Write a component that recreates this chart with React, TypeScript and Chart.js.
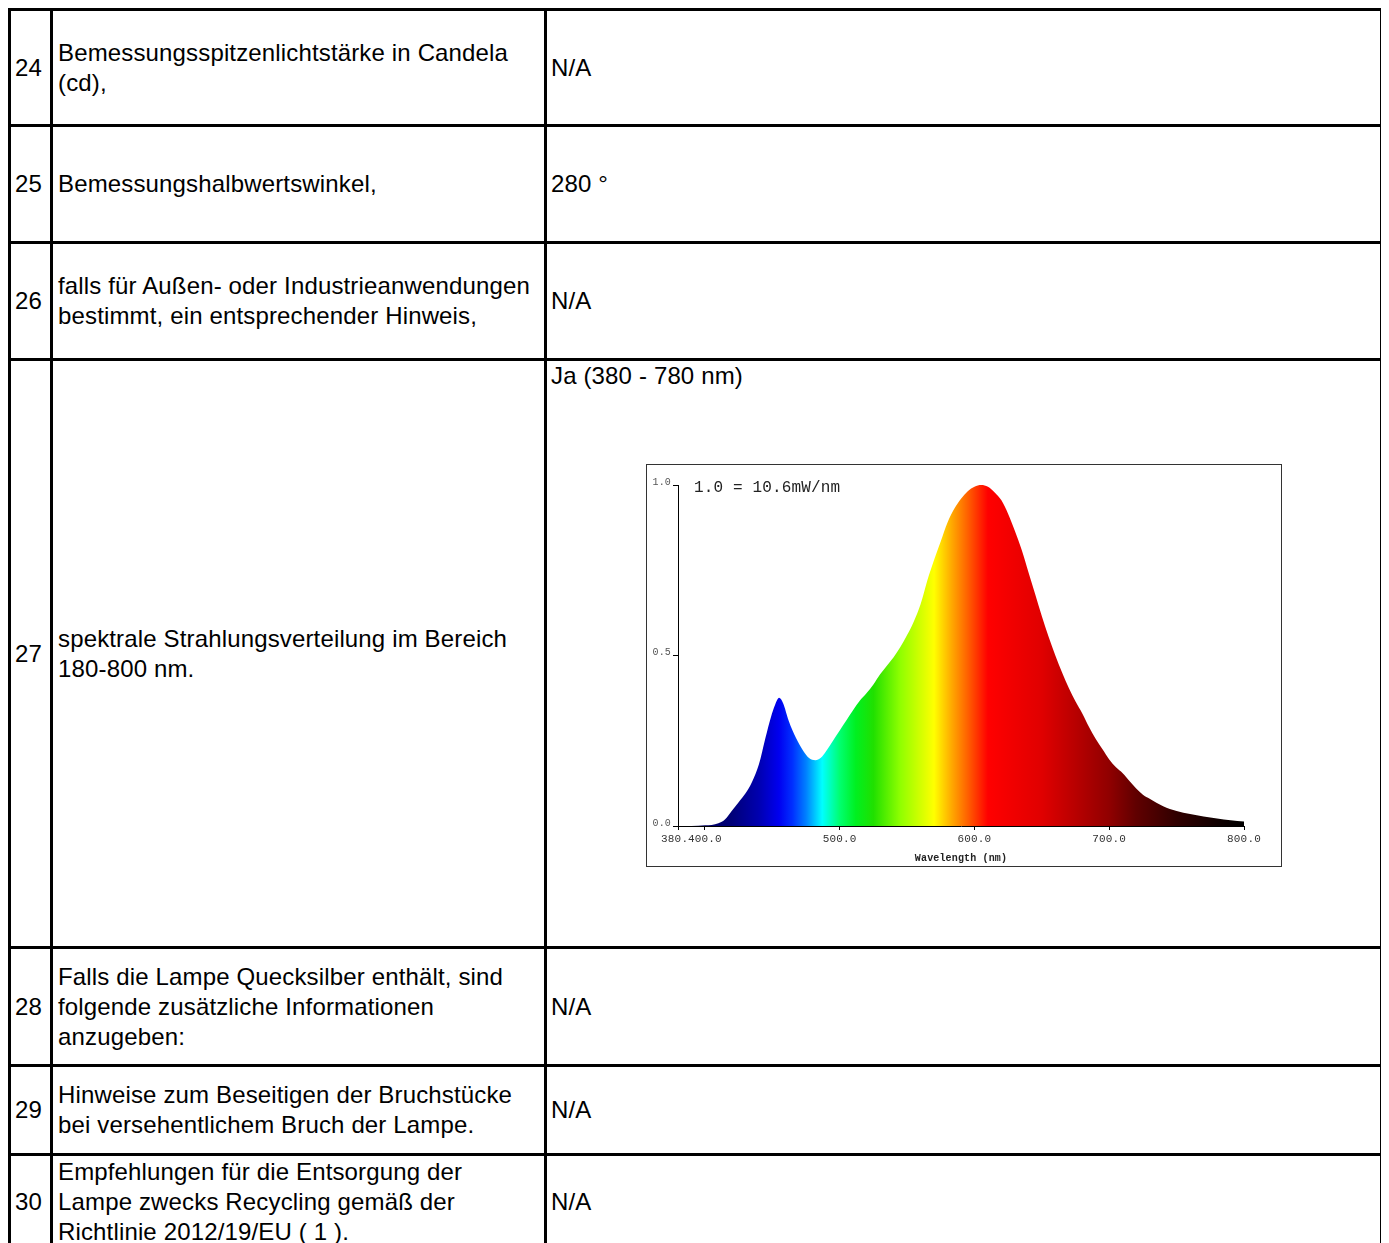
import React, { useEffect, useRef } from "react";
import { Chart, registerables } from "chart.js";

Chart.register(...registerables);

// ---- Table data ----
const ROW_NUMBERS = ["24", "25", "26", "27", "28", "29", "30"];
const ROW_LABELS: string[][] = [
  ["Bemessungsspitzenlichtstärke in Candela", "(cd),"],
  ["Bemessungshalbwertswinkel,"],
  ["falls für Außen- oder Industrieanwendungen", "bestimmt, ein entsprechender Hinweis,"],
  ["spektrale Strahlungsverteilung im Bereich", "180-800 nm."],
  ["Falls die Lampe Quecksilber enthält, sind", "folgende zusätzliche Informationen", "anzugeben:"],
  ["Hinweise zum Beseitigen der Bruchstücke", "bei versehentlichem Bruch der Lampe."],
  ["Empfehlungen für die Entsorgung der", "Lampe zwecks Recycling gemäß der", "Richtlinie 2012/19/EU ( 1 )."],
];
const ROW_VALUES = ["N/A", "280 °", "N/A", "Ja (380 - 780 nm)", "N/A", "N/A", "N/A"];
const CHART_ROW = 3;

// ---- Chart data ----
const WAVELENGTHS = [
  380, 390, 400, 405, 410, 415, 420, 425, 430, 435, 440, 445, 449, 452, 455, 458, 462, 465, 470, 473,
  477, 482, 486, 490, 495, 500, 505, 510, 515, 520, 525, 530, 535, 540, 545, 550, 555, 560, 565, 570,
  575, 580, 585, 590, 595, 600, 605, 610, 615, 620, 625, 630, 635, 640, 645, 650, 655, 660, 665, 670,
  675, 680, 685, 690, 695, 700, 705, 710, 715, 720, 725, 730, 735, 740, 745, 750, 760, 770, 780, 790, 800,
];
const INTENSITY = [
  0, 0, 0.002, 0.003, 0.008, 0.02, 0.045, 0.07, 0.095, 0.13, 0.18, 0.26, 0.32, 0.355, 0.376, 0.36, 0.31, 0.28, 0.24, 0.22,
  0.2, 0.193, 0.2, 0.22, 0.25, 0.28, 0.31, 0.34, 0.368, 0.39, 0.415, 0.445, 0.47, 0.495, 0.525, 0.56, 0.6, 0.65, 0.72, 0.78,
  0.835, 0.89, 0.93, 0.96, 0.982, 0.995, 1.0, 0.995, 0.978, 0.955, 0.915, 0.865, 0.81, 0.745, 0.68, 0.615, 0.555, 0.5, 0.45, 0.405,
  0.365, 0.33, 0.29, 0.255, 0.225, 0.195, 0.172, 0.155, 0.132, 0.11, 0.092, 0.08, 0.068, 0.058, 0.05, 0.044, 0.035, 0.028, 0.022, 0.017, 0.013,
];
const X_TICKS = [380, 400, 500, 600, 700, 800];
const X_TICK_LABELS = ["380. ", "400.0", "500.0", "600.0", "700.0", "800.0"];
const Y_TICKS = [0, 0.5, 1.0];
const Y_TICK_LABELS = ["0.0", "0.5", "1.0"];
const X_TITLE = "Wavelength (nm)";
const NOTE_TEXT = "1.0 = 10.6mW/nm";

// spectrum colour stops (style)
const SPECTRUM_STOPS: [number, string][] = [
  [380, "#000050"],
  [420, "#000078"],
  [440, "#0000b0"],
  [455, "#0000f0"],
  [465, "#0030ff"],
  [475, "#0080ff"],
  [487, "#00ffff"],
  [500, "#00ff70"],
  [512, "#00f020"],
  [525, "#20e000"],
  [545, "#90ff00"],
  [570, "#ffff00"],
  [582, "#ffb000"],
  [595, "#ff6000"],
  [610, "#ff0000"],
  [650, "#e00000"],
  [680, "#b00000"],
  [700, "#900000"],
  [720, "#600000"],
  [750, "#300000"],
  [780, "#100000"],
  [800, "#000000"],
];

const ROW_HEIGHTS = [116, 117, 117, 588, 118, 89, 95];
const COL_WIDTHS = [42, 494, 836];
const B = "3px solid #000";

const notePlugin = {
  id: "noteText",
  afterDraw(chart: any) {
    const { ctx, chartArea } = chart;
    ctx.save();
    ctx.font = '16px "Liberation Mono", monospace';
    ctx.fillStyle = "#222";
    ctx.textBaseline = "middle";
    ctx.textAlign = "left";
    ctx.fillText(NOTE_TEXT, chartArea.left + 16, chartArea.top + 3);
    ctx.restore();
  },
};

function SpectrumChart() {
  const ref = useRef<HTMLCanvasElement | null>(null);
  useEffect(() => {
    if (!ref.current) return;
    const chart = new Chart(ref.current, {
      type: "line",
      data: {
        datasets: [
          {
            data: WAVELENGTHS.map((w, i) => ({ x: w, y: INTENSITY[i] })),
            fill: "origin",
            borderWidth: 0,
            pointRadius: 0,
            cubicInterpolationMode: "monotone",
            backgroundColor: (c: any) => {
              const ch = c.chart;
              if (!ch.chartArea) return "#000";
              const x0 = ch.scales.x.getPixelForValue(380);
              const x1 = ch.scales.x.getPixelForValue(800);
              const g = ch.ctx.createLinearGradient(x0, 0, x1, 0);
              SPECTRUM_STOPS.forEach(([nm, col]) => g.addColorStop((nm - 380) / 420, col));
              return g;
            },
          } as any,
        ],
      },
      options: {
        animation: false,
        responsive: false,
        devicePixelRatio: 1,
        layout: { padding: { top: 20, right: 37, left: 0, bottom: 0 } },
        plugins: { legend: { display: false }, tooltip: { enabled: false } },
        scales: {
          x: {
            type: "linear",
            min: 380,
            max: 800,
            afterBuildTicks: (s: any) => {
              s.ticks = X_TICKS.map((v) => ({ value: v }));
            },
            afterFit: (s: any) => {
              s.height = 40;
            },
            ticks: {
              autoSkip: false,
              maxRotation: 0,
              padding: 2,
              color: "#333",
              font: { family: '"Liberation Mono", monospace', size: 11 },
              callback: (v: any) => {
                const i = X_TICKS.indexOf(Number(v));
                return i >= 0 ? X_TICK_LABELS[i] : "";
              },
            },
            grid: { drawOnChartArea: false, drawTicks: true, tickLength: 4, color: "#000" },
            border: { display: true, color: "#000", width: 1 },
            title: {
              display: true,
              text: X_TITLE,
              color: "#222",
              font: { family: '"Liberation Mono", monospace', size: 10, weight: "bold" },
              padding: { top: 0, bottom: 2 },
            },
          },
          y: {
            type: "linear",
            min: 0,
            max: 1,
            afterBuildTicks: (s: any) => {
              s.ticks = Y_TICKS.map((v) => ({ value: v }));
            },
            afterFit: (s: any) => {
              s.width = 31;
            },
            ticks: {
              padding: 2,
              labelOffset: -3,
              color: "#555",
              font: { family: '"Liberation Mono", monospace', size: 10 },
              callback: (v: any) => {
                const i = Y_TICKS.indexOf(Number(v));
                return i >= 0 ? Y_TICK_LABELS[i] : "";
              },
            },
            grid: { drawOnChartArea: false, drawTicks: true, tickLength: 5, color: "#000" },
            border: { display: true, color: "#000", width: 1 },
          },
        },
      } as any,
      plugins: [notePlugin],
    });
    return () => chart.destroy();
  }, []);
  return <canvas ref={ref} width={634} height={401} style={{ display: "block", width: 634, height: 401 }} />;
}

export default function App() {
  const font: React.CSSProperties = {
    fontFamily: '"Liberation Sans", Arial, Helvetica, sans-serif',
    fontSize: 24,
    lineHeight: "30px",
    letterSpacing: "0.15px",
    color: "#000",
  };
  const cells: React.ReactNode[] = [];
  ROW_NUMBERS.forEach((num, r) => {
    const h = ROW_HEIGHTS[r];
    const base: React.CSSProperties = {
      boxSizing: "border-box",
      borderRight: B,
      borderBottom: B,
      height: h,
      display: "flex",
      alignItems: "center",
      overflow: "hidden",
    };
    cells.push(
      <div key={`n${r}`} style={{ ...base, paddingLeft: 4 }}>
        {num}
      </div>
    );
    cells.push(
      <div key={`l${r}`} style={{ ...base, paddingLeft: 5 }}>
        <div>
          {ROW_LABELS[r].map((line, i) => (
            <div key={i}>{line}</div>
          ))}
        </div>
      </div>
    );
    if (r === CHART_ROW) {
      cells.push(
        <div
          key={`v${r}`}
          style={{ ...base, paddingLeft: 4, flexDirection: "column", alignItems: "flex-start", justifyContent: "flex-start" }}
        >
          <div>{ROW_VALUES[r]}</div>
          <div style={{ marginTop: 73, marginLeft: 95, border: "1px solid #333", width: 634, height: 401 }}>
            <SpectrumChart />
          </div>
        </div>
      );
    } else {
      cells.push(
        <div key={`v${r}`} style={{ ...base, paddingLeft: 4 }}>
          {ROW_VALUES[r]}
        </div>
      );
    }
  });
  return (
    <div
      style={{
        ...font,
        display: "grid",
        gridTemplateColumns: COL_WIDTHS.map((w) => `${w}px`).join(" "),
        gridTemplateRows: ROW_HEIGHTS.map((h) => `${h}px`).join(" "),
        width: "fit-content",
        borderLeft: B,
        borderTop: B,
      }}
    >
      {cells}
    </div>
  );
}
